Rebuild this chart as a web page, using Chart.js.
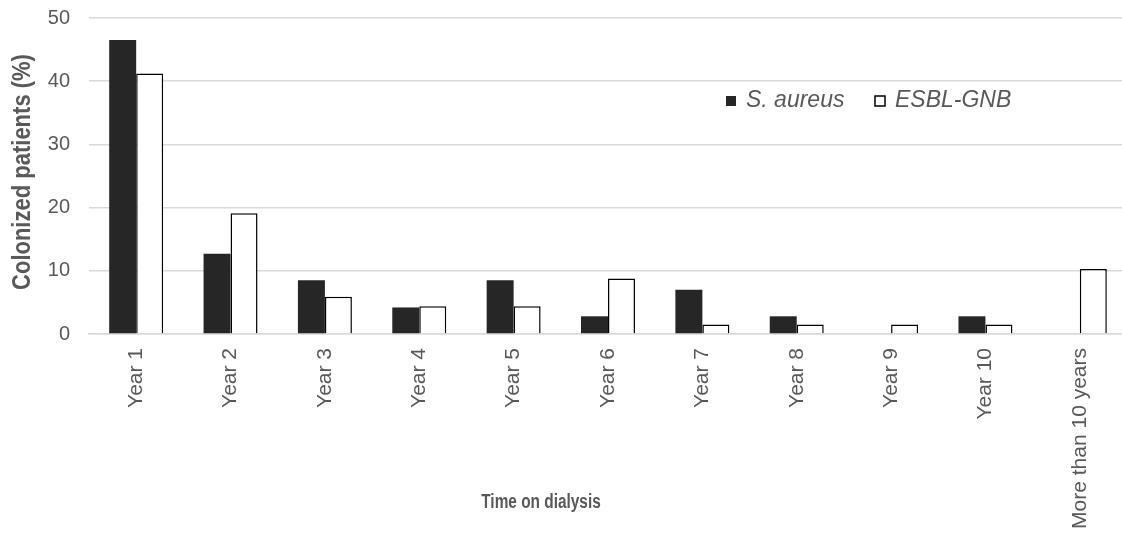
<!DOCTYPE html>
<html>
<head>
<meta charset="utf-8">
<script src="https://cdn.jsdelivr.net/npm/chart.js@4/dist/chart.umd.min.js"></script>
<style>
  html, body { margin: 0; padding: 0; background: #fff; overflow: hidden; }
  #wrap { position: relative; width: 1130px; height: 535px; }
</style>
</head>
<body>
<div id="wrap"><canvas id="colonChart"></canvas></div>
<script>
// Chart data
const categories = ['Year 1', 'Year 2', 'Year 3', 'Year 4', 'Year 5', 'Year 6',
    'Year 7', 'Year 8', 'Year 9', 'Year 10', 'More than 10 years'];
const sAureus = [46.5, 12.7, 8.5, 4.2, 8.5, 2.8, 7.0, 2.8, 0, 2.8, 0];
const esblGnb = [41.2, 19.1, 5.9, 4.4, 4.4, 8.8, 1.5, 1.5, 1.5, 1.5, 10.3];
const yMax = 50;
const yStep = 10;
const xTitle = 'Time on dialysis';
const yTitle = 'Colonized patients (%)';

const textGray = '#595959';
const gridGray = '#d9d9d9';
const sans = "'Liberation Sans', Arial, sans-serif";

Chart.defaults.font.family = sans;
Chart.defaults.font.size = 20;
Chart.defaults.color = textGray;

// Legend inside the plot + both axis titles (narrow bold), drawn by hand
const extrasPlugin = {
    id: 'extras',
    afterDraw(chart) {
        const ctx = chart.ctx;
        const area = chart.chartArea;
        ctx.save();

        // legend
        let x = area.left + 637;
        const y = 101;
        ctx.font = 'italic 23px ' + sans;
        ctx.textBaseline = 'middle';
        chart.data.datasets.forEach(ds => {
            ctx.fillStyle = ds.backgroundColor;
            ctx.fillRect(x, y - 5, 10, 10);
            if (ds.borderWidth) {
                ctx.strokeStyle = ds.borderColor;
                ctx.lineWidth = 1.5;
                ctx.strokeRect(x, y - 5, 10, 10);
            }
            ctx.fillStyle = textGray;
            ctx.fillText(ds.label, x + 20, y);
            x += 149;
        });

        // x axis title (squeezed to look like a narrow face)
        ctx.fillStyle = textGray;
        ctx.textAlign = 'center';
        ctx.textBaseline = 'middle';
        ctx.save();
        ctx.translate(541, 502);
        ctx.scale(0.77, 1);
        ctx.font = 'bold 20px ' + sans;
        ctx.fillText(xTitle, 0, 0);
        ctx.restore();

        // y axis title
        ctx.save();
        ctx.translate(23, 172);
        ctx.rotate(-Math.PI / 2);
        ctx.scale(0.88, 1);
        ctx.font = 'bold 25px ' + sans;
        ctx.fillText(yTitle, 0, 0);
        ctx.restore();

        ctx.restore();
    }
};

new Chart(document.getElementById('colonChart'), {
    type: 'bar',
    data: {
        labels: categories,
        datasets: [
            {
                label: 'S. aureus',
                data: sAureus,
                backgroundColor: '#262626',
                borderWidth: 0
            },
            {
                label: 'ESBL-GNB',
                data: esblGnb,
                backgroundColor: '#ffffff',
                borderColor: '#000000',
                borderWidth: 1.5
            }
        ]
    },
    options: {
        responsive: true,
        maintainAspectRatio: false,
        animation: false,
        layout: {
            padding: { top: 18, right: 3, bottom: 0, left: 0 }
        },
        datasets: {
            bar: {
                categoryPercentage: 0.572,
                barPercentage: 1.0
            }
        },
        plugins: {
            legend: { display: false },
            tooltip: { enabled: false }
        },
        scales: {
            x: {
                grid: { display: false, drawTicks: false },
                border: { display: true, color: gridGray, width: 1.5 },
                ticks: {
                    minRotation: 90,
                    maxRotation: 90,
                    padding: 14,
                    autoSkip: false,
                    color: textGray,
                    font: { size: 21 }
                },
                afterFit(scale) { scale.height = 201; }
            },
            y: {
                min: 0,
                max: yMax,
                border: { display: false },
                grid: { color: gridGray, lineWidth: 1.5, drawTicks: false },
                ticks: {
                    stepSize: yStep,
                    padding: 19,
                    color: textGray,
                    font: { size: 20 }
                },
                afterFit(scale) {
                    scale.width = 89;
                    // tick padding is for the gap to the labels only, not above the plot
                    scale.paddingTop = 0;
                    scale.paddingBottom = 0;
                }
            }
        }
    },
    plugins: [extrasPlugin]
});
</script>
</body>
</html>
